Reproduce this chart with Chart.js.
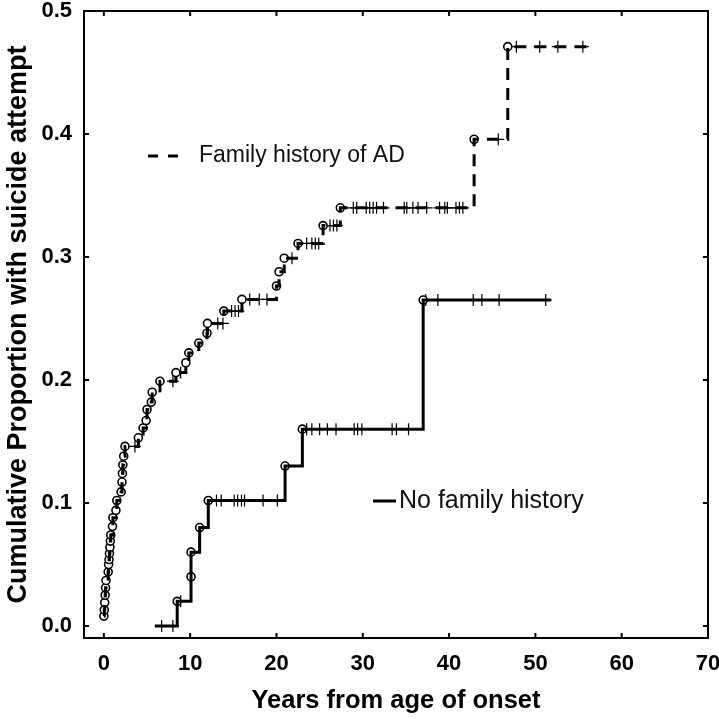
<!DOCTYPE html>
<html>
<head>
<meta charset="utf-8">
<script src="https://cdn.jsdelivr.net/npm/chart.js@4.4.1/dist/chart.umd.min.js"></script>
<style>
  html, body { margin: 0; padding: 0; background: #fff; }
  #wrap { width: 719px; height: 719px; }
</style>
</head>
<body>
<div id="wrap"><canvas id="grafico"></canvas></div>
<script>
// tick labels
const xTicks = [0, 10, 20, 30, 40, 50, 60, 70];
const yTicks = [0, 0.1, 0.2, 0.3, 0.4, 0.5];

// family history of AD: event times / cumulative proportion, censored times
const famTimes = [0.0, 0.05, 0.1, 0.15, 0.2, 0.25, 0.5, 0.55, 0.6, 0.65, 0.7, 0.75, 0.8,
    1.0, 1.05, 1.4, 1.5, 2.0, 2.1, 2.15, 2.2, 2.3, 2.45, 4.0, 4.55, 4.9, 5.0, 5.5, 5.6,
    6.5, 8.35, 9.5, 9.85, 11.0, 11.95, 12.0, 13.9, 16.0, 20.0, 20.3, 20.9, 22.5, 25.4,
    27.4, 42.9, 46.8];
const famProps = [0.008, 0.013, 0.019, 0.025, 0.031, 0.037, 0.044, 0.050, 0.054, 0.059, 0.064, 0.069, 0.074,
    0.081, 0.088, 0.094, 0.102, 0.109, 0.117, 0.124, 0.131, 0.138, 0.146, 0.153, 0.161, 0.167, 0.176, 0.182, 0.190,
    0.199, 0.206, 0.214, 0.222, 0.230, 0.238, 0.246, 0.256, 0.2655, 0.2764, 0.288, 0.299, 0.311, 0.3255,
    0.340, 0.3957, 0.471];
const famCensor = [3.6, 8.0, 8.9, 13.2, 13.8, 14.8, 15.2, 15.6, 16.9, 18.0, 18.9, 21.8, 23.5, 24.1,
    24.5, 24.9, 26.2, 26.6, 27.0, 28.9, 29.3, 30.4, 30.8, 31.2, 31.6, 32.4, 34.8, 35.1, 35.8, 36.4,
    37.4, 38.9, 39.5, 39.8, 40.8, 41.2, 41.6, 45.7, 47.8, 50.5, 52.6, 55.5];
const famEnd = 56.3;

// no family history
const noTimes = [8.5, 10.1, 10.1, 11.1, 12.1, 21.0, 23.0, 37.0];
const noProps = [0.020, 0.040, 0.060, 0.080, 0.102, 0.130, 0.160, 0.265];
const noCensor = [6.7, 8.0, 8.9, 13.05, 13.6, 15.1, 15.5, 15.95, 16.3, 18.45, 20.1, 23.5, 24.1,
    25.0, 25.9, 26.9, 29.0, 29.4, 29.9, 33.4, 33.9, 35.3, 37.3, 38.7, 42.8, 43.8, 45.8, 51.2];
const noStart = 5.9;
const noEnd = 51.8;

const FONT = '"Liberation Sans", Arial, sans-serif';

function valorEn(times, props, t) {
    let v = 0;
    for (let i = 0; i < times.length; i++) {
        if (times[i] <= t) v = props[i];
    }
    return v;
}

const famLinea = famTimes.map((t, i) => ({ x: t, y: famProps[i] }));
famLinea.push({ x: famEnd, y: famProps[famProps.length - 1] });

const noLinea = [{ x: noStart, y: 0 }].concat(noTimes.map((t, i) => ({ x: t, y: noProps[i] })));
noLinea.push({ x: noEnd, y: noProps[noProps.length - 1] });

const famEventos = famTimes.map((t, i) => ({ x: t, y: famProps[i] }));
const noEventos = noTimes.map((t, i) => ({ x: t, y: noProps[i] }));
const famCens = famCensor.map(t => ({ x: t, y: valorEn(famTimes, famProps, t) }));
const noCens = noCensor.map(t => ({ x: t, y: valorEn(noTimes, noProps, t) }));

// frame, inward ticks and the in-plot legend
const marco = {
    id: 'marco',
    afterDraw(chart) {
        const { ctx, chartArea: a, scales } = chart;
        ctx.save();
        ctx.strokeStyle = '#000';
        ctx.lineWidth = 2;
        ctx.strokeRect(a.left, a.top, a.right - a.left, a.bottom - a.top);
        ctx.beginPath();
        xTicks.forEach(v => {
            const px = scales.x.getPixelForValue(v);
            ctx.moveTo(px, a.bottom); ctx.lineTo(px, a.bottom - 5);
            ctx.moveTo(px, a.top); ctx.lineTo(px, a.top + 5);
        });
        yTicks.forEach(v => {
            const py = scales.y.getPixelForValue(v);
            ctx.moveTo(a.left, py); ctx.lineTo(a.left + 5, py);
            ctx.moveTo(a.right, py); ctx.lineTo(a.right - 5, py);
        });
        ctx.stroke();

        // legend
        ctx.lineWidth = 3;
        ctx.setLineDash([10, 10]);
        ctx.beginPath();
        ctx.moveTo(148, 156); ctx.lineTo(180, 156);
        ctx.stroke();
        ctx.setLineDash([]);
        ctx.beginPath();
        ctx.moveTo(373, 501); ctx.lineTo(396, 501);
        ctx.stroke();
        ctx.fillStyle = '#111';
        ctx.textBaseline = 'middle';
        ctx.textAlign = 'left';
        ctx.font = '23px ' + FONT;
        ctx.fillText('Family history of AD', 199, 156);
        ctx.font = '25px ' + FONT;
        ctx.fillText('No family history', 399, 501);
        ctx.restore();
    }
};

const config = {
    type: 'line',
    data: {
        datasets: [
            {
                label: 'Family history of AD',
                data: famLinea,
                stepped: 'before',
                borderColor: '#000',
                borderWidth: 3,
                borderDash: [12, 8],
                pointRadius: 0,
                fill: false
            },
            {
                label: 'No family history',
                data: noLinea,
                stepped: 'before',
                borderColor: '#000',
                borderWidth: 3,
                pointRadius: 0,
                fill: false
            },
            {
                label: 'eventos',
                data: famEventos.concat(noEventos),
                showLine: false,
                pointStyle: 'circle',
                pointRadius: 4,
                pointBorderWidth: 1.6,
                pointBorderColor: '#000',
                pointBackgroundColor: '#fff'
            },
            {
                label: 'censurados',
                data: famCens.concat(noCens),
                showLine: false,
                pointStyle: 'cross',
                pointRadius: 6,
                pointBorderWidth: 1.2,
                pointBorderColor: '#000'
            }
        ]
    },
    options: {
        responsive: true,
        maintainAspectRatio: false,
        animation: false,
        layout: { padding: 0 },
        plugins: {
            legend: { display: false },
            tooltip: { enabled: false }
        },
        scales: {
            x: {
                type: 'linear',
                min: -2.3,
                max: 70,
                afterBuildTicks: axis => { axis.ticks = xTicks.map(v => ({ value: v })); },
                afterFit: axis => {
                    axis.height = 81;
                    axis.paddingLeft = 0;
                    axis.paddingRight = 11;
                },
                grid: { display: false, drawTicks: false },
                border: { display: false },
                ticks: {
                    color: '#000',
                    padding: 15,
                    maxRotation: 0,
                    font: { family: FONT, size: 22, weight: 'bold', lineHeight: 1 }
                },
                title: {
                    display: true,
                    text: 'Years from age of onset',
                    color: '#000',
                    font: { family: FONT, size: 25.5, weight: 'bold' },
                    padding: { top: 4, bottom: 3 }
                }
            },
            y: {
                type: 'linear',
                min: -0.0098,
                max: 0.5,
                afterBuildTicks: axis => { axis.ticks = yTicks.map(v => ({ value: v })); },
                afterFit: axis => {
                    axis.width = 84;
                    axis.paddingTop = 11;
                    axis.paddingBottom = 0;
                },
                grid: { display: false, drawTicks: false },
                border: { display: false },
                ticks: {
                    color: '#000',
                    padding: 12,
                    callback: v => v.toFixed(1),
                    font: { family: FONT, size: 22, weight: 'bold', lineHeight: 1 }
                },
                title: {
                    display: true,
                    text: 'Cumulative Proportion with suicide attempt',
                    color: '#000',
                    font: { family: FONT, size: 27, weight: 'bold' },
                    padding: { top: 2, bottom: 4 }
                }
            }
        }
    },
    plugins: [marco]
};

new Chart(document.getElementById('grafico'), config);
</script>
</body>
</html>
